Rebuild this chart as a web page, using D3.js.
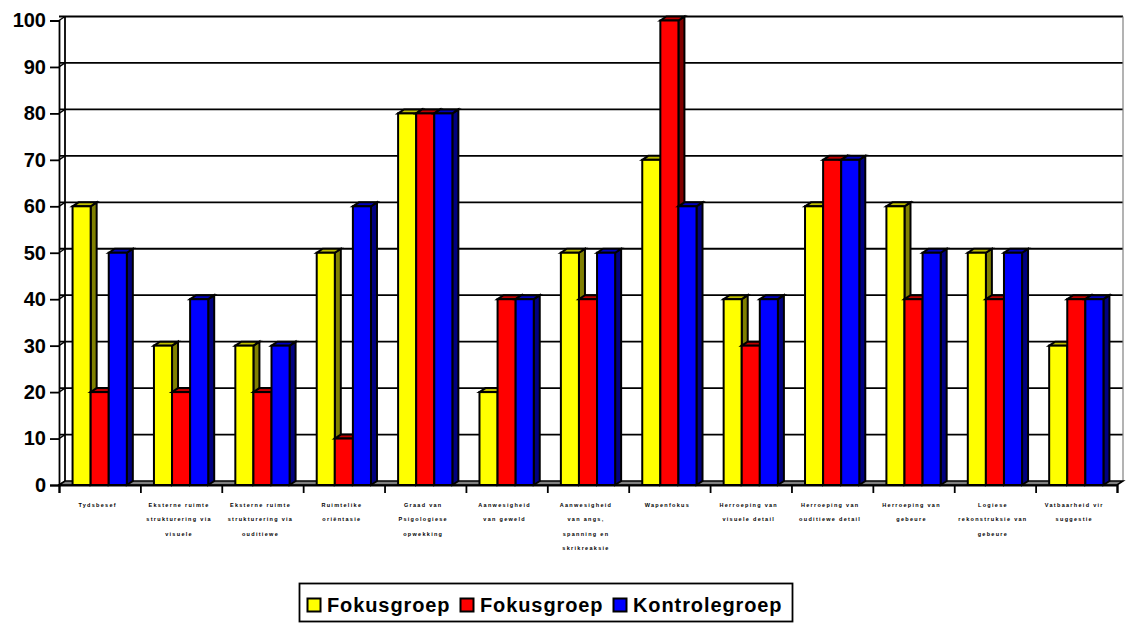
<!DOCTYPE html>
<html>
<head>
<meta charset="utf-8">
<script src="https://cdn.jsdelivr.net/npm/d3@7"></script>
<style>
html, body { margin: 0; padding: 0; background: #fff; }
text { font-family: "Liberation Sans", Arial, sans-serif; font-weight: bold; fill: #000; }
</style>
</head>
<body>
<div class="chart"></div>
<script>
var categories = [
    ["Tydsbesef"],
    ["Eksterne ruimte", "strukturering via", "visuele"],
    ["Eksterne ruimte", "strukturering via", "ouditiewe"],
    ["Ruimtelike", "oriëntasie"],
    ["Graad van", "Psigologiese", "opwekking"],
    ["Aanwesigheid", "van geweld"],
    ["Aanwesigheid", "van angs,", "spanning en", "skrikreaksie"],
    ["Wapenfokus"],
    ["Herroeping van", "visuele detail"],
    ["Herroeping van", "ouditiewe detail"],
    ["Herroeping van", "gebeure"],
    ["Logiese", "rekonstruksie van", "gebeure"],
    ["Vatbaarheid vir", "suggestie"]
];
var seriesNames = ["Fokusgroep", "Fokusgroep", "Kontrolegroep"];
var fokusA = [60, 30, 30, 50, 80, 20, 50, 70, 40, 60, 60, 50, 30];
var fokusB = [20, 20, 20, 10, 80, 40, 40, 100, 30, 70, 40, 40, 40];
var kontrole = [50, 40, 30, 60, 80, 40, 50, 60, 40, 70, 50, 50, 40];
var seriesValues = [fokusA, fokusB, kontrole];
var yTicks = [0, 10, 20, 30, 40, 50, 60, 70, 80, 90, 100];
var faceColors = ["#ffff00", "#ff0000", "#0000ff"];
var topColors = ["#bfbf00", "#bf0000", "#0000bf"];
var sideColors = ["#808000", "#800000", "#000080"];

var width = 1129;
var height = 624;
var left = 59, right = 1117, top_ = 20.5, bottom = 485;
var depthX = 6, depthY = -4;

var x = d3.scaleBand()
    .domain(d3.range(categories.length))
    .range([left, right])
    .paddingInner(1 / 3)
    .paddingOuter(1 / 6);

var xSeries = d3.scaleBand()
    .domain(d3.range(seriesValues.length))
    .range([0, x.bandwidth()]);

// tick marks sit between the groups
var xEdges = d3.scaleLinear()
    .domain([0, categories.length])
    .range([left, right]);

var y = d3.scaleLinear()
    .domain([0, 100])
    .range([bottom, top_]);

var canvas = d3.select(".chart")
    .append("svg")
    .attr("width", width)
    .attr("height", height)
    .style("display", "block");

// back wall grid
canvas.selectAll(".grid")
    .data(yTicks)
    .enter().append("line")
    .attr("class", "grid")
    .attr("x1", left)
    .attr("x2", right + depthX)
    .attr("y1", function(d) { return y(d) + depthY; })
    .attr("y2", function(d) { return y(d) + depthY; })
    .attr("stroke", function(d) { return d === 0 ? "none" : "black"; })
    .attr("stroke-width", 1.8);

// side wall slants
canvas.selectAll(".slant")
    .data(yTicks)
    .enter().append("line")
    .attr("class", "slant")
    .attr("x1", left)
    .attr("x2", left + depthX)
    .attr("y1", function(d) { return y(d); })
    .attr("y2", function(d) { return y(d) + depthY; })
    .attr("stroke", "black")
    .attr("stroke-width", 1.4);

canvas.append("line")
    .attr("x1", left + depthX)
    .attr("x2", left + depthX)
    .attr("y1", y(100) + depthY)
    .attr("y2", y(0) + depthY)
    .attr("stroke", "black")
    .attr("stroke-width", 1.8);

canvas.append("line")
    .attr("x1", right + depthX)
    .attr("x2", right + depthX)
    .attr("y1", y(100) + depthY)
    .attr("y2", y(0) + depthY)
    .attr("stroke", "#808080")
    .attr("stroke-width", 1.2);

// floor
canvas.append("polygon")
    .attr("points", [
        [left, y(0)],
        [left + depthX, y(0) + depthY],
        [right + depthX, y(0) + depthY],
        [right, y(0)]
    ].join(" "))
    .attr("fill", "#808080")
    .attr("stroke", "black")
    .attr("stroke-width", 1.6);

// bars
seriesValues.forEach(function(values, s) {
    var bars = canvas.append("g").attr("class", "series");
    var xLeft = function(d, i) { return x(i) + xSeries(s); };
    var xRight = function(d, i) { return x(i) + xSeries(s) + xSeries.bandwidth(); };

    bars.selectAll(".side")
        .data(values)
        .enter().append("polygon")
        .attr("class", "side")
        .attr("points", function(d, i) {
            var r = xRight(d, i);
            return [
                [r, y(d)],
                [r + depthX, y(d) + depthY],
                [r + depthX, y(0) + depthY],
                [r, y(0)]
            ].join(" ");
        })
        .attr("fill", sideColors[s])
        .attr("stroke", "black")
        .attr("stroke-width", 2);

    bars.selectAll(".top")
        .data(values)
        .enter().append("polygon")
        .attr("class", "top")
        .attr("points", function(d, i) {
            var l = xLeft(d, i), r = xRight(d, i);
            return [
                [l, y(d)],
                [l + depthX, y(d) + depthY],
                [r + depthX, y(d) + depthY],
                [r, y(d)]
            ].join(" ");
        })
        .attr("fill", topColors[s])
        .attr("stroke", "black")
        .attr("stroke-width", 2);

    bars.selectAll(".face")
        .data(values)
        .enter().append("rect")
        .attr("class", "face")
        .attr("x", xLeft)
        .attr("y", function(d) { return y(d); })
        .attr("width", xSeries.bandwidth())
        .attr("height", function(d) { return y(0) - y(d); })
        .attr("fill", faceColors[s])
        .attr("stroke", "black")
        .attr("stroke-width", 2);
});

// axes
var yAxis = d3.axisLeft(y)
    .tickValues(yTicks)
    .tickSize(9)
    .tickPadding(4);

var yG = canvas.append("g")
    .attr("transform", "translate(" + left + ",0)")
    .call(yAxis);
yG.selectAll("text").style("font-size", "20px");
yG.selectAll("line").attr("stroke", "black").attr("stroke-width", 1.8);
yG.select(".domain").attr("stroke", "black").attr("stroke-width", 1.8);

var xAxis = d3.axisBottom(xEdges)
    .tickValues(d3.range(categories.length + 1))
    .tickSize(8)
    .tickFormat("");

var xG = canvas.append("g")
    .attr("transform", "translate(0," + bottom + ")")
    .call(xAxis);
xG.selectAll("line").attr("stroke", "black").attr("stroke-width", 1.8);
xG.select(".domain").attr("stroke", "black").attr("stroke-width", 2);

// category labels, wrapped by hand like the original
var labels = canvas.selectAll(".cat")
    .data(categories)
    .enter().append("text")
    .attr("class", "cat")
    .attr("text-anchor", "middle")
    .style("font-size", "5.5px")
    .style("letter-spacing", "1.3px");

labels.selectAll("tspan")
    .data(function(d, i) {
        return d.map(function(line, n) { return { line: line, n: n, i: i }; });
    })
    .enter().append("tspan")
    .attr("x", function(d) { return x(d.i) + x.bandwidth() / 2 - 2; })
    .attr("y", function(d) { return 507 + d.n * 14.4; })
    .text(function(d) { return d.line; });

// legend
canvas.append("rect")
    .attr("x", 299.5)
    .attr("y", 583.5)
    .attr("width", 493)
    .attr("height", 38)
    .attr("fill", "white")
    .attr("stroke", "black")
    .attr("stroke-width", 1.8);

var legendX = d3.scaleOrdinal()
    .domain(d3.range(seriesNames.length))
    .range([307, 460, 613]);

var legend = canvas.selectAll(".legend")
    .data(seriesNames)
    .enter().append("g")
    .attr("class", "legend")
    .attr("transform", function(d, i) { return "translate(" + legendX(i) + ",0)"; });

legend.append("rect")
    .attr("x", 0.5)
    .attr("y", 598.5)
    .attr("width", 13)
    .attr("height", 13)
    .attr("fill", function(d, i) { return faceColors[i]; })
    .attr("stroke", "black")
    .attr("stroke-width", 2);

legend.append("text")
    .attr("x", 20)
    .attr("y", 612)
    .style("font-size", "20px")
    .style("letter-spacing", "0.9px")
    .text(function(d) { return d; });
</script>
</body>
</html>
